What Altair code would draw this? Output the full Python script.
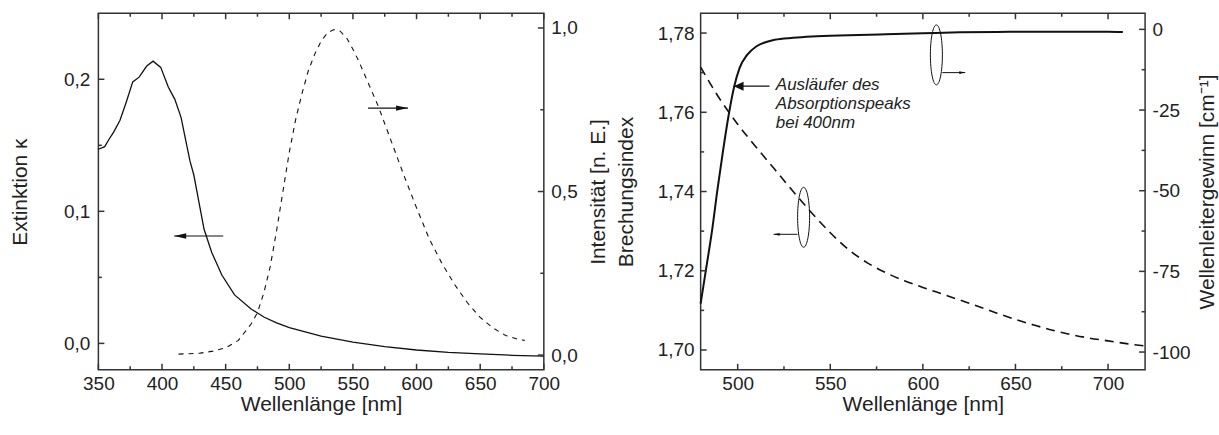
import altair as alt
import pandas as pd

# ---------------- data ----------------
# left panel: extinction kappa (solid) and emission intensity (dashed)
kappa_wl = [350, 355, 358, 362, 367, 372, 377, 382, 388, 393, 399, 405, 410, 415, 419, 422, 425, 429, 433, 439, 447, 457, 470, 480, 490, 500, 525, 550, 575, 600, 625, 650, 675, 700]
kappa_val = [0.147, 0.149, 0.154, 0.160, 0.169, 0.183, 0.198, 0.2016, 0.210, 0.2137, 0.209, 0.194, 0.185, 0.171, 0.152, 0.138, 0.1275, 0.107, 0.0866, 0.069, 0.0518, 0.0367, 0.026, 0.020, 0.0155, 0.012, 0.0055, 0.001, -0.0025, -0.005, -0.0068, -0.008, -0.009, -0.0097]

int_wl = [413, 420, 430, 440, 450, 460, 470, 475, 480, 485, 490, 495, 500, 505, 510, 515, 520, 525, 530, 535, 540, 545, 550, 555, 560, 565, 570, 580, 590, 600, 610, 620, 630, 640, 650, 660, 670, 680, 685]
int_val = [0.003, 0.004, 0.006, 0.012, 0.022, 0.045, 0.095, 0.13, 0.19, 0.27, 0.38, 0.50, 0.62, 0.72, 0.80, 0.87, 0.92, 0.96, 0.985, 0.995, 0.99, 0.97, 0.935, 0.895, 0.85, 0.805, 0.76, 0.655, 0.55, 0.45, 0.355, 0.28, 0.215, 0.16, 0.115, 0.083, 0.06, 0.048, 0.045]

# right panel: refractive index (dashed) and waveguide gain (solid)
n_wl = [480, 490, 500, 510, 520, 530, 540, 550, 560, 570, 580, 590, 600, 610, 620, 630, 640, 650, 660, 670, 680, 690, 700, 710, 720]
n_val = [1.7714, 1.7636, 1.7570, 1.7512, 1.7456, 1.7400, 1.7346, 1.7296, 1.7253, 1.7220, 1.7195, 1.7175, 1.7158, 1.7142, 1.7126, 1.7110, 1.7093, 1.7077, 1.7063, 1.7050, 1.7039, 1.7030, 1.7023, 1.7016, 1.7010]

g_wl = [480, 483, 486, 489, 492, 495, 498, 501, 505, 510, 515, 520, 530, 540, 560, 580, 600, 620, 640, 660, 680, 700, 708]
g_val = [-85, -74, -63, -50, -38, -27, -18, -12, -8, -5.3, -4, -3.2, -2.6, -2.2, -1.8, -1.5, -1.2, -0.9, -0.8, -0.7, -0.7, -0.7, -0.8]

# tick values (major = labelled, minor = unlabelled)
xl_major = [350, 400, 450, 500, 550, 600, 650, 700]
xl_minor = [375, 425, 475, 525, 575, 625, 675]
kappa_major = [0.0, 0.1, 0.2]
kappa_minor = [0.05, 0.15]
int_major = [0.0, 0.5, 1.0]
int_minor = [0.25, 0.75]
xr_major = [500, 550, 600, 650, 700]
xr_minor = [525, 575, 625, 675]
n_major = [1.70, 1.72, 1.74, 1.76, 1.78]
n_minor = [1.71, 1.73, 1.75, 1.77]
g_major = [0, -25, -50, -75, -100]
g_minor = [-12.5, -37.5, -62.5, -87.5]

# annotations (data coordinates)
arrowL_left = {"x1": [448.1], "x2": [409.6], "y": [0.0813]}       # kappa axis
arrowL_right = {"x1": [561.9], "x2": [593.3], "y": [0.755]}       # intensity axis
ell_n = {"x": [535.6], "y": [1.7335]}                               # refractive index axis
arrow_n = {"x1": [532.3], "x2": [519.4], "y": [1.7292]}
ell_g = {"x": [607.3], "y": [-7.9]}                                 # gain axis
arrow_g = {"x1": [610.5], "x2": [622.9], "y": [-13.4]}
arrow_note = {"x1": [517.2], "x2": [497.8], "y": [-17.6]}
note = {"x": [520.6], "y": [-18.7], "t": ["Ausläufer des\nAbsorptionspeaks\nbei 400nm"]}

# ---------------- styling ----------------
FONT = "Liberation Sans"
AX = "#333333"
INK = "#111111"
TXT = "#222222"
MAJ, MIN = 6, 3.5
TW = 1.5
LEFT_HEAD = "M0,0 L2,-0.45 L2,0.45 Z"
RIGHT_HEAD = "M0,0 L-2,-0.45 L-2,0.45 Z"
ELLIPSE = "M0,-1 A0.2,1 0 1,1 0,1 A0.2,1 0 1,1 0,-1 Z"

WL, HL = 446, 357
WR, HR = 445, 357


def ax(**kw):
    base = dict(domain=False, grid=False, ticks=False, labelFont=FONT, labelFontSize=19,
                titleFont=FONT, titleFontSize=21, titleFontWeight="normal",
                labelColor=TXT, titleColor=TXT, labelFlush=False, labelOverlap=False)
    base.update(kw)
    return alt.Axis(**base)


def comma(fmt):
    return f"replace(format(datum.value, '{fmt}'), '.', ',')"


def xticks(vals, scale, length, H):
    base = alt.Chart(pd.DataFrame({"t": vals})).mark_rule(color=AX, strokeWidth=TW)
    xe = alt.X("t:Q", scale=scale, axis=None)
    return [base.encode(x=xe, y=alt.value(H), y2=alt.value(H - length)),
            base.encode(x=xe, y=alt.value(0), y2=alt.value(length))]


def yticks(vals, scale, length, W, side):
    base = alt.Chart(pd.DataFrame({"t": vals})).mark_rule(color=AX, strokeWidth=TW)
    ye = alt.Y("t:Q", scale=scale, axis=None)
    if side == "left":
        return [base.encode(y=ye, x=alt.value(0), x2=alt.value(length))]
    return [base.encode(y=ye, x=alt.value(W), x2=alt.value(W - length))]


def arrow(d, xs, ys, head, size, width=1.2):
    df = pd.DataFrame(d)
    rule = alt.Chart(df).mark_rule(color=INK, strokeWidth=width).encode(
        x=alt.X("x1:Q", scale=xs, axis=None), x2="x2:Q",
        y=alt.Y("y:Q", scale=ys, axis=None))
    tip = alt.Chart(df).mark_point(shape=head, filled=True, size=size, color=INK,
                                   opacity=1, strokeWidth=0).encode(
        x=alt.X("x2:Q", scale=xs, axis=None), y=alt.Y("y:Q", scale=ys, axis=None))
    return [rule, tip]


# ---------------- left panel ----------------
xL = alt.Scale(domain=[350, 700], nice=False, zero=False)
ykS = alt.Scale(domain=[-0.02, 0.25], nice=False, zero=False)
yiS = alt.Scale(domain=[-0.045, 1.045], nice=False, zero=False)

xb_L = ax(orient="bottom", values=xl_major, labelPadding=4.5, titlePadding=0)
yk_axis = ax(orient="left", values=kappa_major, labelExpr=comma(".1f"),
             labelPadding=8.5, titlePadding=33.5)
yi_axis = ax(orient="right", values=int_major, labelExpr=comma(".1f"),
             labelPadding=7, titlePadding=10, titleAngle=270, titleBaseline="top")

kdf = pd.DataFrame({"wl": kappa_wl, "v": kappa_val})
idf = pd.DataFrame({"wl": int_wl, "v": int_val})

k_line = alt.Chart(kdf).mark_line(color=INK, strokeWidth=1.3).encode(
    x=alt.X("wl:Q", scale=xL, axis=xb_L, title="Wellenlänge [nm]"),
    y=alt.Y("v:Q", scale=ykS, axis=yk_axis, title="Extinktion κ"))
i_line = alt.Chart(idf).mark_line(color=INK, strokeWidth=1.1, strokeDash=[5, 5]).encode(
    x=alt.X("wl:Q", scale=xL, axis=None),
    y=alt.Y("v:Q", scale=yiS, axis=yi_axis, title="Intensität [n. E.]"))

left_layers = [k_line, i_line]
left_layers += xticks(xl_major, xL, MAJ, HL) + xticks(xl_minor, xL, MIN, HL)
left_layers += yticks(kappa_major, ykS, MAJ, WL, "left") + yticks(kappa_minor, ykS, MIN, WL, "left")
left_layers += yticks(int_major, yiS, MAJ, WL, "right") + yticks(int_minor, yiS, MIN, WL, "right")
left_layers += arrow(arrowL_left, xL, ykS, LEFT_HEAD, 144)
left_layers += arrow(arrowL_right, xL, yiS, RIGHT_HEAD, 144)

left = alt.layer(*left_layers).resolve_scale(y="independent").resolve_axis(
    x="independent", y="independent").properties(width=WL, height=HL)

# ---------------- right panel ----------------
xR = alt.Scale(domain=[480, 720], nice=False, zero=False)
ynS = alt.Scale(domain=[1.695, 1.785], nice=False, zero=False)
ygS = alt.Scale(domain=[-105.5, 5], nice=False, zero=False)

xb_R = ax(orient="bottom", values=xr_major, labelPadding=4.5, titlePadding=0)
yn_axis = ax(orient="left", values=n_major, labelExpr=comma(".2f"),
             labelPadding=6.5, titlePadding=21)
yg_axis = ax(orient="right", values=g_major, labelExpr="'' + datum.value",
             labelPadding=7, titlePadding=6.5, titleAngle=270, titleBaseline="top")

ndf = pd.DataFrame({"wl": n_wl, "v": n_val})
gdf = pd.DataFrame({"wl": g_wl, "v": g_val})

n_line = alt.Chart(ndf).mark_line(color=INK, strokeWidth=1.6, strokeDash=[9, 6],
                                  interpolate="monotone").encode(
    x=alt.X("wl:Q", scale=xR, axis=xb_R, title="Wellenlänge [nm]"),
    y=alt.Y("v:Q", scale=ynS, axis=yn_axis, title="Brechungsindex"))
g_line = alt.Chart(gdf).mark_line(color=INK, strokeWidth=2, interpolate="monotone").encode(
    x=alt.X("wl:Q", scale=xR, axis=None),
    y=alt.Y("v:Q", scale=ygS, axis=yg_axis, title="Wellenleitergewinn [cm⁻¹]"))


def ellipse(d, ys):
    return alt.Chart(pd.DataFrame(d)).mark_point(shape=ELLIPSE, filled=False, size=3600,
                                                 color=INK, opacity=1, strokeWidth=1).encode(
        x=alt.X("x:Q", scale=xR, axis=None), y=alt.Y("y:Q", scale=ys, axis=None))


note_text = alt.Chart(pd.DataFrame(note)).mark_text(
    align="left", baseline="alphabetic", font=FONT, fontSize=17, fontStyle="italic",
    lineBreak="\n", lineHeight=19, color=TXT).encode(
    x=alt.X("x:Q", scale=xR, axis=None), y=alt.Y("y:Q", scale=ygS, axis=None), text="t:N")

right_layers = [n_line, g_line]
right_layers += xticks(xr_major, xR, MAJ, HR) + xticks(xr_minor, xR, MIN, HR)
right_layers += yticks(n_major, ynS, MAJ, WR, "left") + yticks(n_minor, ynS, MIN, WR, "left")
right_layers += yticks(g_major, ygS, MAJ, WR, "right") + yticks(g_minor, ygS, MIN, WR, "right")
right_layers += [ellipse(ell_n, ynS), ellipse(ell_g, ygS)]
right_layers += arrow(arrow_n, xR, ynS, LEFT_HEAD, 36, 1)
right_layers += arrow(arrow_g, xR, ygS, RIGHT_HEAD, 36, 1)
right_layers += arrow(arrow_note, xR, ygS, "M0,0 L2,-0.9 L2,0.9 Z", 100, 1.3)
right_layers += [note_text]

right = alt.layer(*right_layers).resolve_scale(y="independent").resolve_axis(
    x="independent", y="independent").properties(width=WR, height=HR)

chart = alt.hconcat(left, right, spacing=4).properties(
    padding={"left": 7.5, "right": 0, "top": 11, "bottom": 2}
).configure_view(stroke=AX, strokeWidth=1.5)

chart.save("out.html", embed_options={"renderer": "svg", "actions": False})
